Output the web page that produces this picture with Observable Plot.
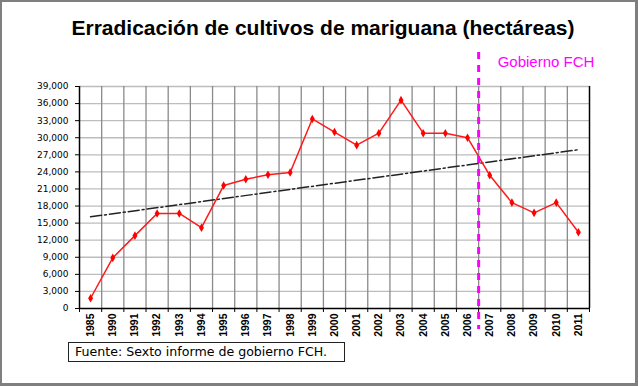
<!DOCTYPE html>
<html>
<head>
<meta charset="utf-8">
<script src="https://cdn.jsdelivr.net/npm/d3@7"></script>
<script src="https://cdn.jsdelivr.net/npm/@observablehq/plot@0.6"></script>
<style>
  html, body { margin: 0; padding: 0; background: #fff; }
  #wrap { position: relative; width: 638px; height: 386px; overflow: hidden; background: #fff; }
  #frame { position: absolute; left: 0; top: 0; width: 638px; height: 386px; box-sizing: border-box;
           border-style: solid; border-color: #7f7f7f; border-width: 2px 3px 3px 2px; }
  #title { position: absolute; left: 0; width: 646px; top: 16px; text-align: center;
           font-family: "Liberation Sans", Arial, sans-serif; font-weight: bold; font-size: 21px; color: #000; }
  #chart { position: absolute; left: 0; top: 40px; }
  #source { position: absolute; left: 68px; top: 342px; width: 277px; height: 20px; box-sizing: border-box;
            border: 1.6px solid #222; font-family: "DejaVu Sans", sans-serif; font-size: 12.6px;
            line-height: 17px; padding-left: 6px; color: #000; white-space: nowrap; }
</style>
</head>
<body>
<div id="wrap">
  <div id="frame"></div>
  <div id="title">Erradicación de cultivos de mariguana (hectáreas)</div>
  <div id="chart"></div>
  <div id="source">Fuente: Sexto informe de gobierno FCH.</div>
</div>
<script>
// ---- data ----
const years = ["1985","1990","1991","1992","1993","1994","1995","1996","1997","1998","1999","2000",
               "2001","2002","2003","2004","2005","2006","2007","2008","2009","2010","2011"];
const hectares = [1800, 8900, 12800, 16700, 16700, 14200, 21600, 22700, 23500, 23900, 33300, 31000,
                  28700, 30800, 36600, 30800, 30800, 30000, 23400, 18600, 16800, 18600, 13400];
const trendYears = ["1985", "2011"];
const trendValues = [16100, 27900];
const yTicks = [0, 3000, 6000, 9000, 12000, 15000, 18000, 21000, 24000, 27000, 30000, 33000, 36000, 39000];
const fchStart = "2007";          // Gobierno FCH begins
const fchLabel = "Gobierno FCH";

// ---- tables built from the arrays ----
const idx = y => years.indexOf(y);
const data = years.map((y, i) => ({i, year: y, v: hectares[i]}));
const trend = trendYears.map((y, k) => ({i: idx(y), v: trendValues[k]}));
const centers = years.map((_, i) => i);
const bounds = d3.range(years.length + 1).map(i => i - 0.5);
const innerBounds = bounds.slice(1, -1);
const fchX = idx(fchStart) - 0.5;

const chart = Plot.plot({
  width: 638,
  height: 300,
  marginTop: 46,
  marginBottom: 32,
  marginLeft: 79,
  marginRight: 49,
  style: {background: "transparent", fontFamily: "DejaVu Sans, sans-serif", overflow: "visible"},
  x: {type: "linear", domain: [bounds[0], bounds[bounds.length - 1]], axis: null},
  y: {domain: [yTicks[0], yTicks[yTicks.length - 1]], axis: null},
  marks: [
    // horizontal gridlines
    Plot.ruleY(yTicks.slice(1), {stroke: "#bdbdbd", strokeWidth: 1.3}),
    // vertical gridlines at category boundaries
    Plot.ruleX(innerBounds, {stroke: "#8a8a8a", strokeWidth: 1.3}),
    // frame lines
    Plot.ruleX([bounds[0], bounds[bounds.length - 1]], {stroke: "#000", strokeWidth: 1.5}),
    Plot.ruleY([yTicks[0]], {stroke: "#000", strokeWidth: 1.5}),
    // y axis
    Plot.axisY({ticks: yTicks, tickFormat: d3.format(","), tickSize: 4, tickPadding: 7,
                fontSize: 9, stroke: "#000", fill: "#000", label: null}),
    // x tick marks at boundaries
    Plot.axisX({ticks: bounds, tickFormat: () => "", tickSize: 4, stroke: "#000", label: null}),
    // x labels at centers
    Plot.axisX({ticks: centers, tickFormat: i => years[i], tickSize: 0, tickPadding: 5,
                tickRotate: -90, fontSize: 10.5, fontWeight: "bold", fill: "#000", label: null,
                fontFamily: "Liberation Sans, Arial, sans-serif"}),
    // trend line
    Plot.line(trend, {x: "i", y: "v", stroke: "#222", strokeWidth: 1.5, strokeDasharray: "11,3,2,3"}),
    // series
    Plot.line(data, {x: "i", y: "v", stroke: "#ff1a1a", strokeWidth: 1.5}),
    Plot.dot(data, {x: "i", y: "v", symbol: "diamond", r: 2.6, fill: "#ff0000", stroke: "none"}),
    // FCH government marker
    Plot.ruleX([fchX], {stroke: "#ff00ff", strokeWidth: 3, strokeDasharray: "7,6",
                        insetTop: -34, insetBottom: -21}),
    Plot.text([fchLabel], {x: fchX, y: yTicks[yTicks.length - 1], text: d => d, dx: 19, dy: -24,
                           textAnchor: "start", fill: "#ff00ff", fontSize: 15,
                           fontFamily: "Liberation Sans, Arial, sans-serif"})
  ]
});
document.getElementById("chart").appendChild(chart);
</script>
</body>
</html>
